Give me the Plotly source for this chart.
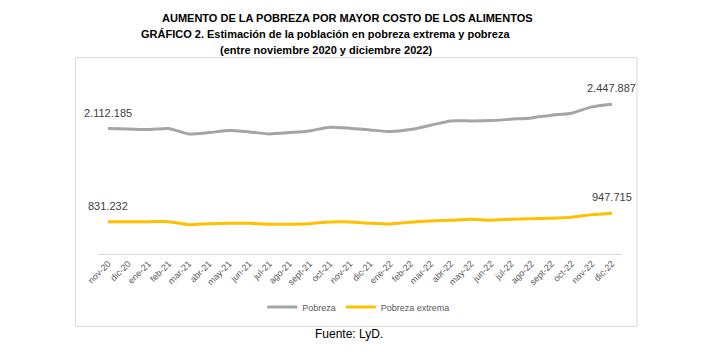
import plotly.graph_objects as go

months = ["nov-20", "dic-20", "ene-21", "feb-21", "mar-21", "abr-21", "may-21", "jun-21",
          "jul-21", "ago-21", "sept-21", "oct-21", "nov-21", "dic-21", "ene-22", "feb-22",
          "mar-22", "abr-22", "may-22", "jun-22", "jul-22", "ago-22", "sept-22", "oct-22",
          "nov-22", "dic-22"]

pobreza = [2112185, 2108000, 2098400, 2114000, 2039200, 2057100, 2084600, 2066800,
           2039200, 2057100, 2080500, 2131500, 2117700, 2094300, 2070900, 2098400,
           2159000, 2218200, 2218200, 2222300, 2241600, 2259500, 2296700, 2324200,
           2411000, 2447887]

pobreza_extrema = [831232, 831000, 831000, 831000, 790000, 803700, 809200, 809200,
                   795400, 795400, 803700, 827100, 827100, 809200, 799600, 823000,
                   840900, 850500, 864300, 850500, 864300, 872500, 878000, 891800,
                   927600, 947715]

series_names = ["Pobreza", "Pobreza extrema"]
title_lines = ["AUMENTO DE LA POBREZA POR MAYOR COSTO DE LOS ALIMENTOS",
               "GRÁFICO 2. Estimación de la población en pobreza extrema y pobreza",
               "(entre noviembre 2020 y diciembre 2022)"]
source_text = "Fuente: LyD."


def fmt(v):
    return f"{v:,}".replace(",", ".")


# page body has an 8px margin; shift all pixel positions to compensate
OFF = 8
W, H = 707 - OFF, 362 - OFF
L, R, T, B = 98 - OFF, 622.5 - OFF, 70 - OFF, 254 - OFF
pw, ph = R - L, B - T


def px_x(p):
    return (p - OFF - L) / pw


def px_y(p):
    return (B - (p - OFF)) / ph


FONT = "Liberation Sans, Arial, sans-serif"

fig = go.Figure()
fig.add_trace(go.Scatter(
    x=months, y=pobreza, name=series_names[0], mode="lines",
    line=dict(color="#a5a5a5", width=3, shape="spline", smoothing=0.6),
))
fig.add_trace(go.Scatter(
    x=months, y=pobreza_extrema, name=series_names[1], mode="lines",
    line=dict(color="#ffc000", width=3, shape="spline", smoothing=0.6),
))

annotations = []
for vals in (pobreza, pobreza_extrema):
    for i in (0, len(vals) - 1):
        annotations.append(dict(text=fmt(vals[i]), x=months[i], y=vals[i], xref="x", yref="y",
                                xanchor="center", yanchor="middle", yshift=16,
                                showarrow=False,
                                font=dict(size=11, color="#404040", family=FONT)))
for txt, cx, cy in zip(title_lines, [348, 325.5, 326], [18, 34, 50]):
    annotations.append(dict(text=f"<b>{txt}</b>", x=px_x(cx), y=px_y(cy), xref="paper", yref="paper",
                            xanchor="center", yanchor="middle", showarrow=False,
                            font=dict(size=11, color="#000000", family=FONT)))
annotations.append(dict(text=source_text, x=px_x(349), y=px_y(334), xref="paper", yref="paper",
                        xanchor="center", yanchor="middle", showarrow=False,
                        font=dict(size=12, color="#000000", family=FONT)))

fig.update_layout(
    width=W, height=H,
    margin=dict(l=L, r=W - R, t=T, b=H - B, pad=0),
    template="none",
    paper_bgcolor="white", plot_bgcolor="white",
    showlegend=True,
    legend=dict(orientation="h", x=px_x(359), y=px_y(307), xanchor="center", yanchor="middle",
                font=dict(size=9, color="#595959", family=FONT), itemwidth=30,
                bgcolor="rgba(0,0,0,0)"),
    annotations=annotations,
    shapes=[dict(type="rect", xref="paper", yref="paper",
                 x0=px_x(75.5), x1=px_x(637.5), y0=px_y(326.5), y1=px_y(57.5),
                 line=dict(color="#d9d9d9", width=1), fillcolor="rgba(0,0,0,0)", layer="below")],
)
fig.update_xaxes(type="category", range=[-0.5, len(months) - 0.5], showgrid=False, zeroline=False,
                 showline=True, linecolor="#d9d9d9", linewidth=1, ticks="", tickangle=-45,
                 tickfont=dict(size=9, color="#595959", family=FONT), automargin=False,
                 fixedrange=True)
fig.update_yaxes(range=[385600, 2919000], showgrid=False, zeroline=False, showline=False,
                 showticklabels=False, ticks="", automargin=False, fixedrange=True)

fig.write_html("out.html")
